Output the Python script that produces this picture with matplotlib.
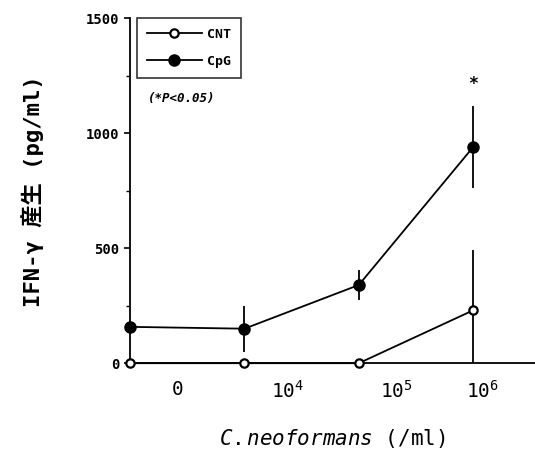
import matplotlib.pyplot as plt
from matplotlib.lines import Line2D
from matplotlib.ticker import MultipleLocator

# data
groups = ['0', '10^4', '10^5', '10^6']
cnt = [0, 0, 0, 230]
cnt_err = [0, 0, 0, 260]
cpg = [158, 150, 340, 940]
cpg_err = [0, 100, 65, 180]
star_y = 1215

x = list(range(len(groups)))
label_x = [0.42, 1.38, 2.33, 3.08]
tick_labels = ['0', r'10$^{4}$', r'10$^{5}$', r'10$^{6}$']

mono = ['DejaVu Sans Mono', 'Noto Sans CJK JP']
plt.rcParams['mathtext.fontset'] = 'custom'
plt.rcParams['mathtext.rm'] = 'DejaVu Sans Mono'
plt.rcParams['mathtext.it'] = 'DejaVu Sans Mono:italic'

fig = plt.figure(figsize=(5.35, 4.54), dpi=100)
ax = fig.add_axes([0.243, 0.200, 0.757, 0.760])

ax.errorbar(x, cpg, yerr=cpg_err, color='black', marker='o', ms=8,
            mfc='black', mec='black', lw=1.3, elinewidth=1.3, capsize=0,
            clip_on=False, zorder=3)
lo = [min(c, e) for c, e in zip(cnt, cnt_err)]
ax.errorbar(x, cnt, yerr=[lo, cnt_err], color='black', marker='o', ms=6,
            mfc='white', mec='black', mew=1.6, lw=1.3, elinewidth=1.3,
            capsize=0, clip_on=False, zorder=4)

ax.text(x[3], star_y, '*', ha='center', va='center', fontsize=12,
        fontweight='bold', family=mono)

ax.set_xlim(0, 3.54)
ax.set_ylim(0, 1500)
ax.spines['top'].set_visible(False)
ax.spines['right'].set_visible(False)
ax.spines['left'].set_linewidth(1.3)
ax.spines['bottom'].set_linewidth(1.3)

ax.yaxis.set_major_locator(MultipleLocator(500))
ax.yaxis.set_minor_locator(MultipleLocator(250))
ax.tick_params(axis='y', which='major', length=4, width=1.2, direction='out')
ax.tick_params(axis='y', which='minor', length=3, width=1, direction='out')
for lab in ax.get_yticklabels():
    lab.set_fontfamily(mono)
    lab.set_fontweight('bold')
    lab.set_fontsize(10)

ax.set_xticks(label_x)
ax.set_xticklabels(tick_labels, fontsize=14, family=mono)
ax.tick_params(axis='x', length=0, pad=12)

ax.set_ylabel('IFN-γ 産生 (pg/ml)', fontsize=16, fontweight='bold',
              family=mono, labelpad=30)
ax.set_xlabel(r'$\it{C.neoformans}$ (/ml)', fontsize=15, family=mono,
              labelpad=18)

handles = [
    Line2D([], [], color='black', lw=1.3, marker='o', ms=6, mfc='white',
           mec='black', mew=1.6),
    Line2D([], [], color='black', lw=1.3, marker='o', ms=8, mfc='black',
           mec='black'),
]
leg = ax.legend(handles, ['CNT', 'CpG'], loc='upper left',
                bbox_to_anchor=(0.017, 1.0), frameon=True, fancybox=False,
                edgecolor='black', handlelength=4.2, borderpad=0.75,
                labelspacing=1.05, handletextpad=0.4, borderaxespad=0,
                prop={'family': mono, 'weight': 'bold', 'size': 9.5})
leg.get_frame().set_linewidth(1.2)

ax.text(0.045, 0.768, '(*P<0.05)', transform=ax.transAxes, fontsize=9,
        fontweight='bold', fontstyle='italic', family=mono, va='center')

fig.savefig('out.png', dpi=100)
